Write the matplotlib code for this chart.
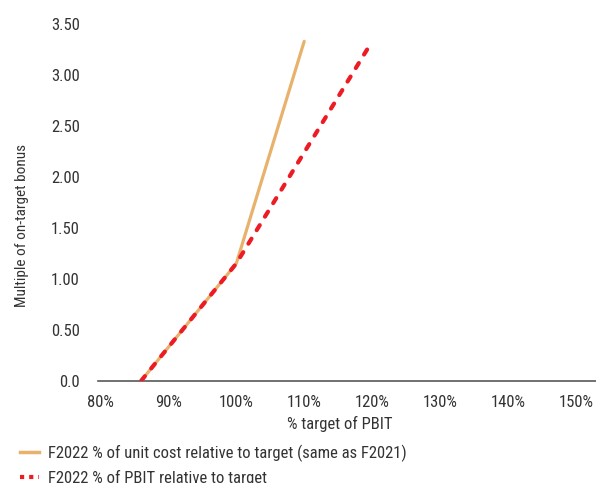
import matplotlib
matplotlib.use("Agg")
import matplotlib.pyplot as plt
from matplotlib.lines import Line2D

plt.rcParams['font.family'] = ['Roboto Condensed', 'Archivo Narrow', 'DejaVu Sans']

# Bonus payout curves: % of target achieved vs multiple of on-target bonus
unit_cost_x = [86, 100, 110]
unit_cost_y = [0.0, 1.15, 3.33]
pbit_x = [86, 100, 120]
pbit_y = [0.0, 1.15, 3.33]

series_labels = [
    "F2022 % of unit cost relative to target (same as F2021)",
    "F2022 % of PBIT relative to target",
]

x_ticks = [80, 90, 100, 110, 120, 130, 140, 150]
x_tick_labels = ["80%", "90%", "100%", "110%", "120%", "130%", "140%", "150%"]
y_ticks = [0.0, 0.5, 1.0, 1.5, 2.0, 2.5, 3.0, 3.5]
y_tick_labels = ["0.0", "0.50", "1.00", "1.50", "2.00", "2.50", "3.00", "3.50"]

orange = "#E8B26C"
red = "#ED1C24"
text_col = "#333333"

fig = plt.figure(figsize=(5.96, 4.83), dpi=100)
ax = fig.add_axes([0.1644, 0.2118, 0.8356, 0.7385])

ax.plot(unit_cost_x, unit_cost_y, color=orange, lw=2.3, solid_capstyle='round',
        solid_joinstyle='round', zorder=2)
ax.plot(pbit_x, pbit_y, color=red, lw=3.0, linestyle=(0, (1.4, 2.4)),
        dash_capstyle='round', dash_joinstyle='round', zorder=3)

ax.set_xlim(79.63, 152.97)
ax.set_ylim(0, 3.5)
ax.set_xticks(x_ticks)
ax.set_xticklabels(x_tick_labels)
ax.set_yticks(y_ticks)
ax.set_yticklabels(y_tick_labels)
ax.tick_params(axis='both', length=0, labelsize=12, colors=text_col)
ax.tick_params(axis='y', pad=13)
ax.tick_params(axis='x', pad=10.5)

for side in ['top', 'right', 'left']:
    ax.spines[side].set_visible(False)
ax.spines['bottom'].set_color('#595959')
ax.spines['bottom'].set_linewidth(1.2)
ax.spines['bottom'].set_zorder(1)

ax.set_xlabel("% target of PBIT", fontsize=12, color=text_col)
ax.xaxis.set_label_coords(0.4857, -0.1214, transform=ax.transAxes)
ax.xaxis.label.set_va('center')
fig.text(0.0369, 0.534, "Multiple of on-target bonus", rotation=90,
         fontsize=11, color=text_col, ha='center', va='center')

handles = [
    Line2D([], [], color=orange, lw=2.5),
    Line2D([], [], color=red, lw=3.0, linestyle=(0, (1, 1.2)), dash_capstyle='butt'),
]
fig.legend(handles, series_labels, loc='upper left', bbox_to_anchor=(0.033, 0.080),
           frameon=False, fontsize=12, handlelength=1.15, handletextpad=0.55,
           labelspacing=0.5, borderaxespad=0, borderpad=0,
           labelcolor=text_col)

fig.savefig("out.png", dpi=100)
